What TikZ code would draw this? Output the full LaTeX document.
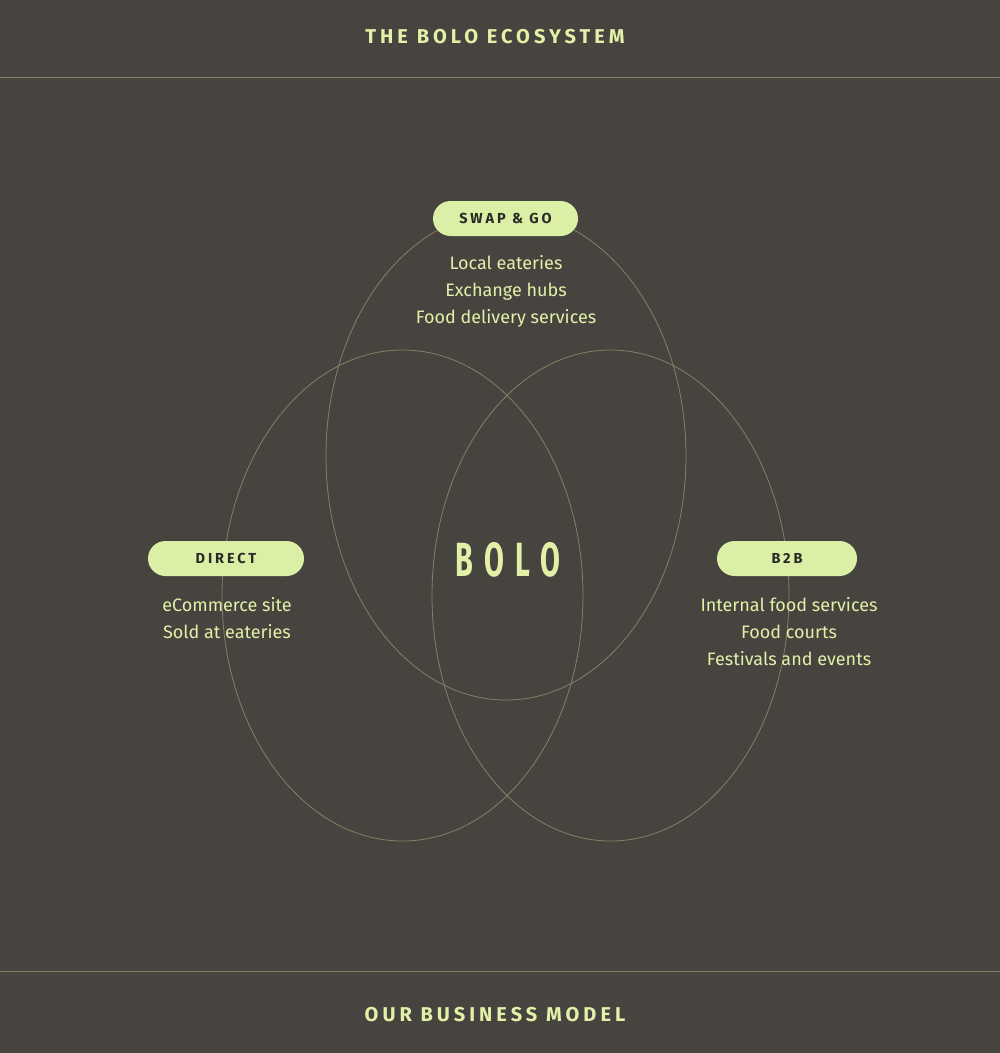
\documentclass[tikz,border=0pt]{standalone}
\usepackage{fontspec}
\setmainfont{Fira Sans}
\newfontfamily\headfont[LetterSpace=20]{Fira Sans}
\newfontfamily\pillfont[LetterSpace=20]{Fira Sans}
\newfontfamily\logofont[LetterSpace=40]{Fira Sans}
\usepackage{xcolor}
\definecolor{board}{HTML}{474440}
\definecolor{rule}{HTML}{8A7D62}
\definecolor{lime}{HTML}{E2F0A8}
\definecolor{pill}{HTML}{DCEFA6}
\definecolor{ink}{HTML}{2A2A26}

\begin{document}
\begin{tikzpicture}[x=1pt, y=-1pt,
  ring/.style={draw=rule, line width=0.8pt},
  tag/.style={fill=pill, text=ink, rounded corners=17.5pt, minimum height=35pt,
    inner sep=0pt, font=\pillfont\bfseries\fontsize{14.5}{14.5}\selectfont},
  items/.style={text=lime, align=center, inner sep=0pt,
    font=\fontsize{18}{27}\selectfont}]
\fill[board] (0,0) rectangle (1000,1053);
\useasboundingbox (0,0) rectangle (1000,1053);

% header and footer
\node[text=lime, font=\headfont\bfseries\fontsize{20}{20}\selectfont] (title) at (495,37) {THE BOLO ECOSYSTEM};
\coordinate (tl) at (0,77);
\coordinate (tr) at (1000,77);
\draw[rule, line width=1pt] (tl) -- (tr);
\coordinate (bl) at (0,971);
\coordinate (br) at (1000,971);
\draw[rule, line width=1pt] (bl) -- (br);
\node[text=lime, font=\headfont\bfseries\fontsize{20}{20}\selectfont] (footer) at (495,1015) {OUR BUSINESS MODEL};

% the three rings
\draw[ring] (506,456) ellipse [x radius=180, y radius=244];
\draw[ring] (402.5,595.5) ellipse [x radius=180.5, y radius=245.5];
\draw[ring] (610.5,595.5) ellipse [x radius=178.5, y radius=245.5];

% labels
\node[tag, minimum width=145pt] (swap) at (505.5,218.5) {SWAP \& GO};
\node[tag, minimum width=156pt] (direct) at (226,558.5) {DIRECT};
\node[tag, minimum width=140pt] (btob) at (787,558.5) {B2B};

\node[items] (swaplist) at (506,291) {Local eateries\\Exchange hubs\\Food delivery services};
\node[items] (directlist) at (227,618.5) {eCommerce site\\Sold at eateries};
\node[items] (btoblist) at (789,632) {Internal food services\\Food courts\\Festivals and events};

\node[text=lime, font=\logofont\bfseries\fontsize{48}{48}\selectfont] (bolo) at (508,560) {\scalebox{0.6}[1]{BOLO}};
\end{tikzpicture}
\end{document}
